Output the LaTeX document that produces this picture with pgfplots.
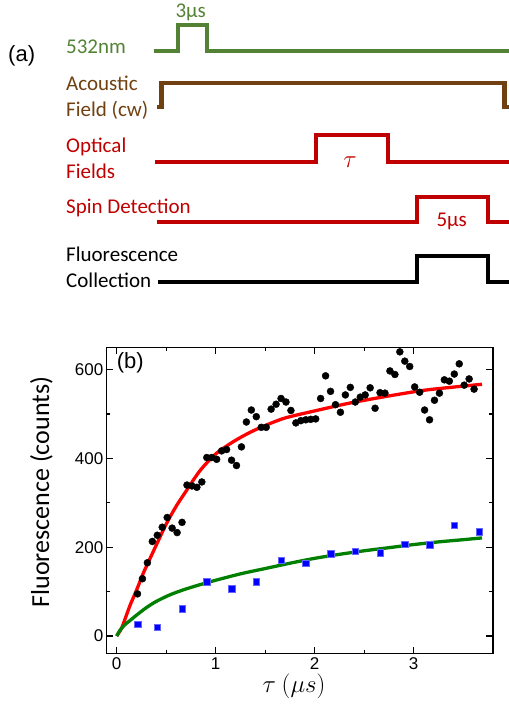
\documentclass[border=0pt]{standalone}
\usepackage{pgfplots}
\pgfplotsset{compat=1.18}
\usepackage{fontspec}
\setmainfont{Carlito}
\newfontfamily\arial{Liberation Sans}
\definecolor{pgreen}{RGB}{84,130,53}
\definecolor{pbrown}{RGB}{112,64,16}
\definecolor{pred}{RGB}{192,0,0}
\pgfplotstableread{
x y
0.21 95
0.26 129
0.31 165
0.36 213
0.41 227
0.46 245
0.51 267
0.56 243
0.61 233
0.66 256
0.71 340
0.76 338
0.81 335
0.86 347
0.91 402
0.96 402
1.01 398
1.06 417
1.11 420
1.16 396
1.21 384
1.26 426
1.31 482
1.36 509
1.41 494
1.46 470
1.51 470
1.56 511
1.61 522
1.66 535
1.71 527
1.76 508
1.81 480
1.86 485
1.91 487
1.96 488
2.01 489
2.06 535
2.11 586
2.16 551
2.21 521
2.26 504
2.31 543
2.36 560
2.41 527
2.46 538
2.51 543
2.56 559
2.61 513
2.66 548
2.71 547
2.76 597
2.81 589
2.86 640
2.91 619
2.96 607
3.01 561
3.06 549
3.11 509
3.16 487
3.21 531
3.26 547
3.31 577
3.36 574
3.41 590
3.46 613
3.51 565
3.56 579
3.61 556
}\blackdata
\pgfplotstableread{
x y
0.21 27
0.41 20
0.66 62
0.91 122
1.16 107
1.41 123
1.66 171
1.91 164
2.16 185
2.41 191
2.66 188
2.91 207
3.16 206
3.41 250
3.66 235
}\bluedata
\pgfplotstableread{
x y
0 0
0.05 18
0.1 48
0.14 72
0.2 103
0.26 137
0.3 157
0.4 205
0.5 252
0.6 292
0.7 326
0.84 372
1.0 410
1.18 438
1.35 459
1.5 474
1.7 491
2.0 507
2.34 524
2.68 538
3.0 550
3.2 556
3.69 567
}\redfit
\pgfplotstableread{
x y
0 0
0.03 12
0.08 25
0.135 35
0.2 47
0.3 64
0.4 78
0.54 93
0.7 106
0.94 122
1.25 140
1.5 152
1.75 164
2.0 175
2.25 184
2.5 192
2.75 199
3.0 206
3.25 212
3.5 217
3.69 221
}\greenfit
\begin{document}
\begin{tikzpicture}
\useasboundingbox (0pt,0pt) rectangle (509pt,710pt);
% ---------------- panel (a)
\begin{axis}[at={(0pt,410pt)}, anchor=south west, scale only axis,
  width=509pt, height=300pt, xmin=0, xmax=509, ymin=0, ymax=300,
  y dir=reverse, axis lines=none, clip=false]
\addplot[no marks, pgreen, line width=4.3pt, line join=miter] coordinates
  {(154,51) (177.7,51) (177.7,25) (207.3,25) (207.3,51) (509,51)};
\addplot[no marks, pbrown, line width=4.3pt, line join=miter] coordinates
  {(157,106.7) (161.5,106.7) (161.5,83.3) (504.5,83.3) (504.5,106.7) (509,106.7)};
\addplot[no marks, pred, line width=4.3pt, line join=miter] coordinates
  {(155,161.7) (316,161.7) (316,135) (388,135) (388,161.7) (509,161.7)};
\addplot[no marks, pred, line width=4.3pt, line join=miter] coordinates
  {(157,222.3) (416.7,222.3) (416.7,196.7) (488.3,196.7) (488.3,222.3) (509,222.3)};
\addplot[no marks, black, line width=4.3pt, line join=miter] coordinates
  {(157.7,281.7) (416.7,281.7) (416.7,255.7) (488.3,255.7) (488.3,281.7) (509,281.7)};
\begin{scope}[every node/.style={inner sep=0pt, font=\fontsize{21}{21}\selectfont}]
\node[anchor=base west, text=pgreen] at (axis cs:66,54) {532nm};
\node[anchor=base, text=pgreen] at (axis cs:190.7,17.3) {3μs};
\node[anchor=base west, text=pbrown] at (axis cs:66,90.7) {Acoustic};
\node[anchor=base west, text=pbrown] at (axis cs:66,116.7) {Field (cw)};
\node[anchor=base west, text=pred] at (axis cs:66,152.7) {Optical};
\node[anchor=base west, text=pred] at (axis cs:66,178.3) {Fields};
\node[anchor=base west, text=pred] at (axis cs:66,213.3) {Spin Detection};
\node[anchor=base west, text=black] at (axis cs:66,261.7) {Fluorescence};
\node[anchor=base west, text=black] at (axis cs:66,287.3) {Collection};
\node[anchor=base, text=pred] at (axis cs:451.7,226) {5μs};
\node[text=pred, font=\fontsize{30}{30}\selectfont] at (axis cs:350,162) {$\tau$};
\node[anchor=base west, font=\arial\fontsize{22}{22}\selectfont] at (axis cs:8,62) {(a)};
\end{scope}
\end{axis}
% ---------------- panel (b)
\begin{axis}[at={(106.8pt,56.2pt)}, anchor=south west, scale only axis,
  width=386.1pt, height=306.4pt,
  xmin=-0.1, xmax=3.8, ymin=-40, ymax=650,
  xtick={0,1,2,3}, ytick={0,200,400,600},
  minor x tick num=1, minor y tick num=1,
  tick align=inside, major tick length=6.5pt, minor tick length=3.5pt,
  axis line style={line width=1.2pt},
  major tick style={line width=1.1pt, black},
  minor tick style={line width=1.1pt, black},
  ticklabel style={font=\arial\fontsize{17}{17}\selectfont},
  /pgf/number format/assume math mode=true]
\addplot[only marks, mark=*, mark size=3.5pt, black] table {\blackdata};
\addplot[only marks, mark=square*, mark size=3.3pt, blue, mark options={draw=blue!60, fill=blue}] table {\bluedata};
\addplot[no marks, red, line width=3.3pt, smooth, tension=0.5] table {\redfit};
\addplot[no marks, green!50!black, line width=3.3pt, smooth, tension=0.5] table {\greenfit};
\end{axis}
\node[rotate=90, inner sep=0pt, font=\fontsize{26}{26}\selectfont] at (41.5pt,218pt) {Fluorescence (counts)};
\node[anchor=base, inner sep=0pt, font=\fontsize{26}{26}\selectfont] at (294pt,17pt) {$\tau\ (\mu s)$};
\node[anchor=base west, inner sep=0pt, font=\arial\fontsize{22}{22}\selectfont] at (116.7pt,341.3pt) {(b)};
\end{tikzpicture}
\end{document}
